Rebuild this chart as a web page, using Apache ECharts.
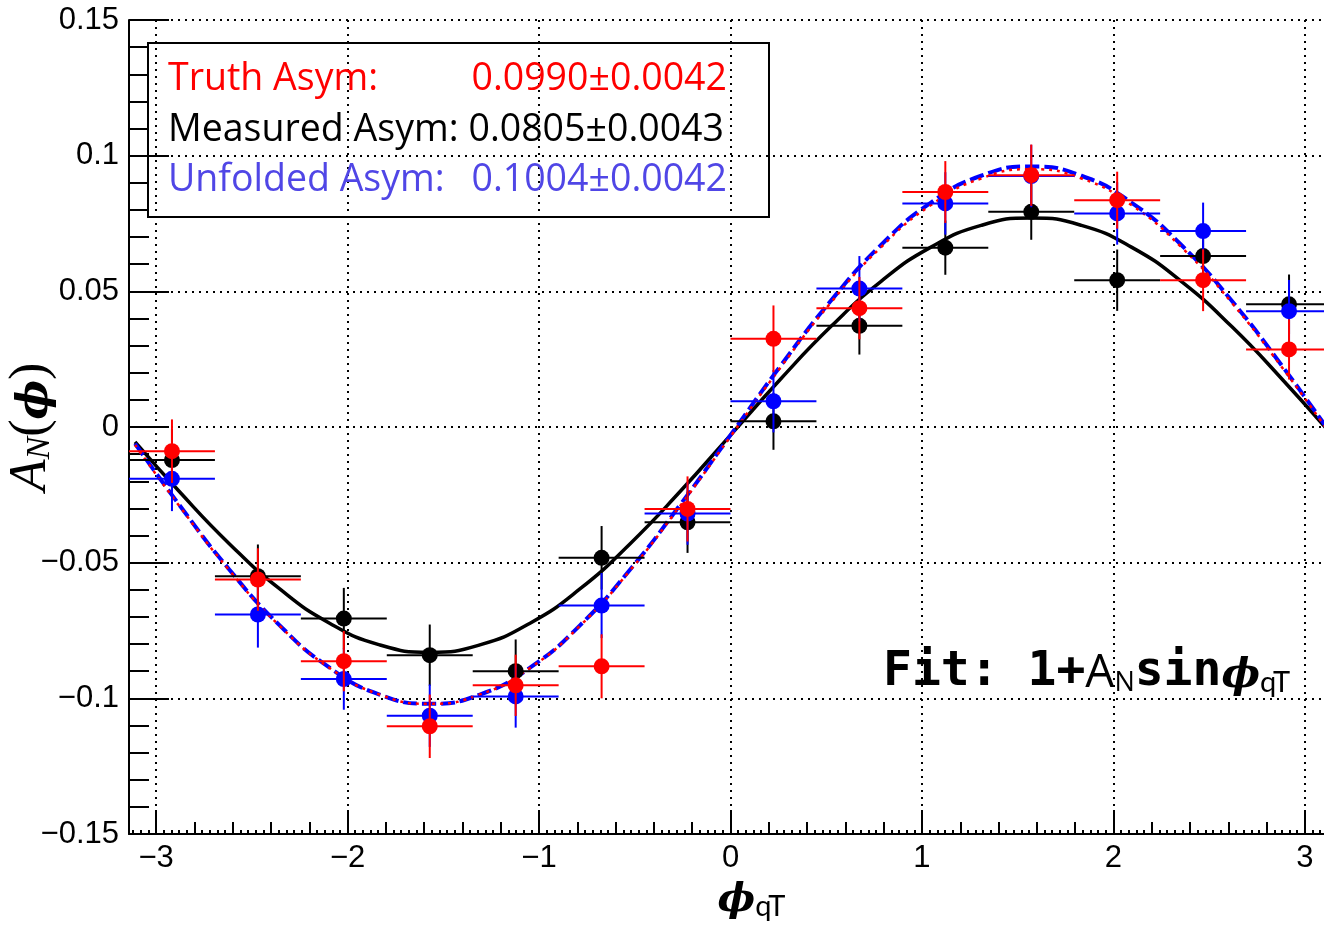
<!DOCTYPE html>
<html><head><meta charset="utf-8">
<script src="https://cdn.jsdelivr.net/npm/echarts@6/dist/echarts.min.js"></script>
<style>html,body{margin:0;padding:0;background:#fff}#c{width:1324px;height:925px}</style>
</head><body><div id="c"></div>
<script>
// ---- data ----
const binCenters = [-2.9172, -2.4684, -2.0196, -1.5708, -1.1220, -0.6732, -0.2244, 0.2244, 0.6732, 1.1220, 1.5708, 2.0196, 2.4684, 2.9172];
const binHalfWidth = 0.2244;

const measured    = [-0.0122, -0.0550, -0.0706, -0.0841, -0.0900, -0.0482, -0.0351, 0.0021, 0.0373, 0.0661, 0.0793, 0.0541, 0.0630, 0.0452];
const measuredErr = [0.0115, 0.0117, 0.0113, 0.0113, 0.0117, 0.0117, 0.0113, 0.0105, 0.0106, 0.0100, 0.0103, 0.0113, 0.0110, 0.0110];

const truth    = [-0.0089, -0.0562, -0.0863, -0.1103, -0.0952, -0.0882, -0.0302, 0.0325, 0.0438, 0.0866, 0.0928, 0.0836, 0.0541, 0.0286];
const truthErr = [0.0117, 0.0115, 0.0111, 0.0117, 0.0113, 0.0118, 0.0120, 0.0123, 0.0115, 0.0114, 0.0113, 0.0105, 0.0114, 0.0111];

const unfolded    = [-0.0191, -0.0691, -0.0929, -0.1064, -0.0993, -0.0658, -0.0319, 0.0095, 0.0510, 0.0824, 0.0925, 0.0787, 0.0722, 0.0427];
const unfoldedErr = [0.0119, 0.0122, 0.0113, 0.0115, 0.0115, 0.0120, 0.0115, 0.0115, 0.0120, 0.0115, 0.0115, 0.0115, 0.0105, 0.0115];

// fit curves
const curveX      = [-3.11, -2.88, -2.618, -2.356, -2.094, -1.833, -1.571, -1.309, -1.047, -0.785, -0.524, -0.262, 0, 0.262, 0.524, 0.785, 1.047, 1.309, 1.571, 1.833, 2.094, 2.356, 2.618, 2.88, 3.1416];
const measuredFit = [-0.0055, -0.0237, -0.0430, -0.0596, -0.0723, -0.0803, -0.0830, -0.0803, -0.0723, -0.0596, -0.0430, -0.0237, -0.0030, 0.0177, 0.0370, 0.0536, 0.0663, 0.0743, 0.0770, 0.0743, 0.0663, 0.0536, 0.0370, 0.0177, -0.0030];
const truthFit    = [-0.0066, -0.0290, -0.0528, -0.0732, -0.0888, -0.0986, -0.1020, -0.0986, -0.0888, -0.0732, -0.0528, -0.0290, -0.0035, 0.0220, 0.0458, 0.0662, 0.0818, 0.0916, 0.0950, 0.0916, 0.0818, 0.0662, 0.0458, 0.0220, -0.0035];
const unfoldedFit = [-0.0061, -0.0286, -0.0525, -0.0730, -0.0887, -0.0986, -0.1020, -0.0986, -0.0887, -0.0730, -0.0525, -0.0286, -0.0030, 0.0226, 0.0465, 0.0670, 0.0827, 0.0926, 0.0960, 0.0926, 0.0827, 0.0670, 0.0465, 0.0226, -0.0030];

const xTickLabels = [-3, -2, -1, 0, 1, 2, 3];
const legendLabels = ['Truth Asym:', 'Measured Asym:', 'Unfolded Asym:'];
const legendValues = ['0.0990\u00b10.0042', '0.0805\u00b10.0043', '0.1004\u00b10.0042'];

// ---- chart ----
const PI = Math.PI;
const xMidTicks = []; for (let k = -15; k <= 15; k++) xMidTicks.push(+(k * 0.2).toFixed(2));
const xSmallTicks = []; for (let k = -78; k <= 78; k++) xSmallTicks.push(+(k * 0.04).toFixed(2));

const BLACK = '#000000', RED = '#ff0000', BLUE = '#0000ff', LBLUE = '#5046e6';
const gridLine = { show: true, lineStyle: { color: '#000', type: [2, 5], width: 2 } };
const minus = s => String(s).replace('-', '\u2212');
const LEG_FONT = '37.5px "Open Sans"';

function errSeries(vals, errs, color, z) {
  return {
    type: 'custom', z, silent: true, animation: false,
    data: binCenters.map((x, i) => [x, vals[i], errs[i]]),
    encode: { x: 0, y: 1 },
    renderItem(params, api) {
      const x = api.value(0), y = api.value(1), e = api.value(2);
      const l = api.coord([x - binHalfWidth, y]), r = api.coord([x + binHalfWidth, y]);
      const t = api.coord([x, y + e]), b = api.coord([x, y - e]);
      const style = { stroke: color, lineWidth: 2 };
      return { type: 'group', children: [
        { type: 'line', shape: { x1: l[0], y1: l[1], x2: r[0], y2: r[1] }, style },
        { type: 'line', shape: { x1: t[0], y1: t[1], x2: b[0], y2: b[1] }, style }
      ] };
    }
  };
}
function pointSeries(vals, color, z) {
  return { type: 'scatter', z, silent: true, symbol: 'circle', symbolSize: 16,
    itemStyle: { color, opacity: 1 }, data: binCenters.map((x, i) => [x, vals[i]]) };
}
function curveSeries(vals, color, width, type, z) {
  return { type: 'line', z, silent: true, smooth: true, showSymbol: false,
    lineStyle: { color, width, type }, data: curveX.map((x, i) => [x, vals[i]]) };
}
function tickAxis(values, len) {
  return { type: 'value', min: -PI, max: PI, position: 'bottom', gridIndex: 0,
    axisLine: { show: false, onZero: false }, axisLabel: { show: false }, splitLine: { show: false },
    axisTick: { show: true, inside: true, length: len, customValues: values, lineStyle: { color: '#000', width: 2 } } };
}

const chart = echarts.init(document.getElementById('c'));
chart.setOption({
  animation: false,
  backgroundColor: '#fff',
  grid: { left: 129, right: -8, top: 20, bottom: 91, containLabel: false, outerBoundsMode: 'none' },
  xAxis: [
    { type: 'value', min: -PI, max: PI, splitNumber: 6, position: 'bottom',
      axisLine: { show: true, onZero: false, lineStyle: { color: '#000', width: 2 } },
      axisTick: { show: true, inside: true, length: 24, customValues: xTickLabels, lineStyle: { color: '#000', width: 2 } },
      axisLabel: { customValues: xTickLabels, formatter: v => minus(v), fontFamily: 'Liberation Sans', fontSize: 31, color: '#000', margin: 9 },
      splitLine: gridLine,
      name: '{f|\u03d5}{q|qT}', nameLocation: 'middle', nameGap: 41, nameMoveOverlap: false,
      nameTextStyle: { padding: [0, 0, 0, 42], rich: {
        f: { fontFamily: 'DejaVu Serif', fontStyle: 'italic', fontWeight: 'bold', fontSize: 40, lineHeight: 46, verticalAlign: 'bottom', color: '#000' },
        q: { fontFamily: 'Lato', fontSize: 29, lineHeight: 29, verticalAlign: 'bottom', color: '#000' } } } },
    tickAxis(xMidTicks, 12),
    tickAxis(xSmallTicks, 4)
  ],
  yAxis: {
    type: 'value', min: -0.15, max: 0.15, interval: 0.05,
    axisLine: { show: true, onZero: false, lineStyle: { color: '#000', width: 2 } },
    axisTick: { show: true, inside: true, length: 40, lineStyle: { color: '#000', width: 2 } },
    minorTick: { show: true, splitNumber: 5, length: 20, lineStyle: { color: '#000', width: 2 } },
    axisLabel: { formatter: v => Math.abs(v) < 1e-9 ? '0' : minus(parseFloat(v.toFixed(2))), fontFamily: 'Liberation Sans', fontSize: 31, color: '#000', margin: 10 },
    splitLine: gridLine,
    name: '{a|A}{n|N}{p|(}{f|\u03d5}{p|)}', nameLocation: 'middle', nameGap: 72, nameMoveOverlap: false,
    nameTextStyle: { rich: {
      a: { fontFamily: 'Liberation Serif', fontStyle: 'italic', fontSize: 52, lineHeight: 56, verticalAlign: 'bottom', color: '#000' },
      n: { fontFamily: 'Liberation Serif', fontStyle: 'italic', fontSize: 34, lineHeight: 34, verticalAlign: 'bottom', color: '#000' },
      p: { fontFamily: 'Liberation Serif', fontSize: 52, lineHeight: 56, verticalAlign: 'bottom', color: '#000' },
      f: { fontFamily: 'DejaVu Serif', fontStyle: 'italic', fontWeight: 'bold', fontSize: 42, lineHeight: 56, verticalAlign: 'bottom', color: '#000' } } }
  },
  series: [
    curveSeries(measuredFit, BLACK, 3.5, 'solid', 2),
    curveSeries(unfoldedFit, BLUE, 4, [14, 5], 2),
    curveSeries(truthFit, RED, 2.5, [3, 5], 2),
    errSeries(measured, measuredErr, BLACK, 3), pointSeries(measured, BLACK, 3),
    errSeries(unfolded, unfoldedErr, BLUE, 4), pointSeries(unfolded, BLUE, 4),
    errSeries(truth, truthErr, RED, 5), pointSeries(truth, RED, 5)
  ],
  graphic: [
    { type: 'rect', z: 10, silent: true, shape: { x: 148, y: 43, width: 621, height: 174 }, style: { fill: 'none', stroke: '#000', lineWidth: 2 } },
    { type: 'text', z: 10, silent: true, x: 168, y: 79, style: { text: legendLabels[0], font: LEG_FONT, fill: RED, textVerticalAlign: 'middle' } },
    { type: 'text', z: 10, silent: true, x: 727, y: 79, style: { text: legendValues[0], font: LEG_FONT, fill: RED, textAlign: 'right', textVerticalAlign: 'middle' } },
    { type: 'text', z: 10, silent: true, x: 168, y: 130, style: { text: legendLabels[1], font: LEG_FONT, fill: BLACK, textVerticalAlign: 'middle' } },
    { type: 'text', z: 10, silent: true, x: 724, y: 130, style: { text: legendValues[1], font: LEG_FONT, fill: BLACK, textAlign: 'right', textVerticalAlign: 'middle' } },
    { type: 'text', z: 10, silent: true, x: 168, y: 180, style: { text: legendLabels[2], font: LEG_FONT, fill: LBLUE, textVerticalAlign: 'middle' } },
    { type: 'text', z: 10, silent: true, x: 727, y: 180, style: { text: legendValues[2], font: LEG_FONT, fill: LBLUE, textAlign: 'right', textVerticalAlign: 'middle' } },
    { type: 'text', z: 10, silent: true, x: 883, y: 697, style: {
      text: '{m|Fit: 1+}{a|A}{s|N}{m|sin}{f|\u03d5}{q|qT}', textVerticalAlign: 'bottom',
      rich: {
        m: { fontFamily: 'DejaVu Sans Mono', fontWeight: 'bold', fontSize: 48, lineHeight: 56, verticalAlign: 'bottom', fill: '#000' },
        a: { fontFamily: 'Open Sans', fontSize: 46, lineHeight: 56, verticalAlign: 'bottom', fill: '#000' },
        s: { fontFamily: 'Open Sans', fontSize: 27, lineHeight: 30, verticalAlign: 'bottom', fill: '#000' },
        f: { fontFamily: 'DejaVu Serif', fontStyle: 'italic', fontWeight: 'bold', fontSize: 41, lineHeight: 56, verticalAlign: 'bottom', fill: '#000' },
        q: { fontFamily: 'Lato', fontSize: 29, lineHeight: 32, verticalAlign: 'bottom', fill: '#000' }
      } } }
  ]
});
</script>
</body></html>
